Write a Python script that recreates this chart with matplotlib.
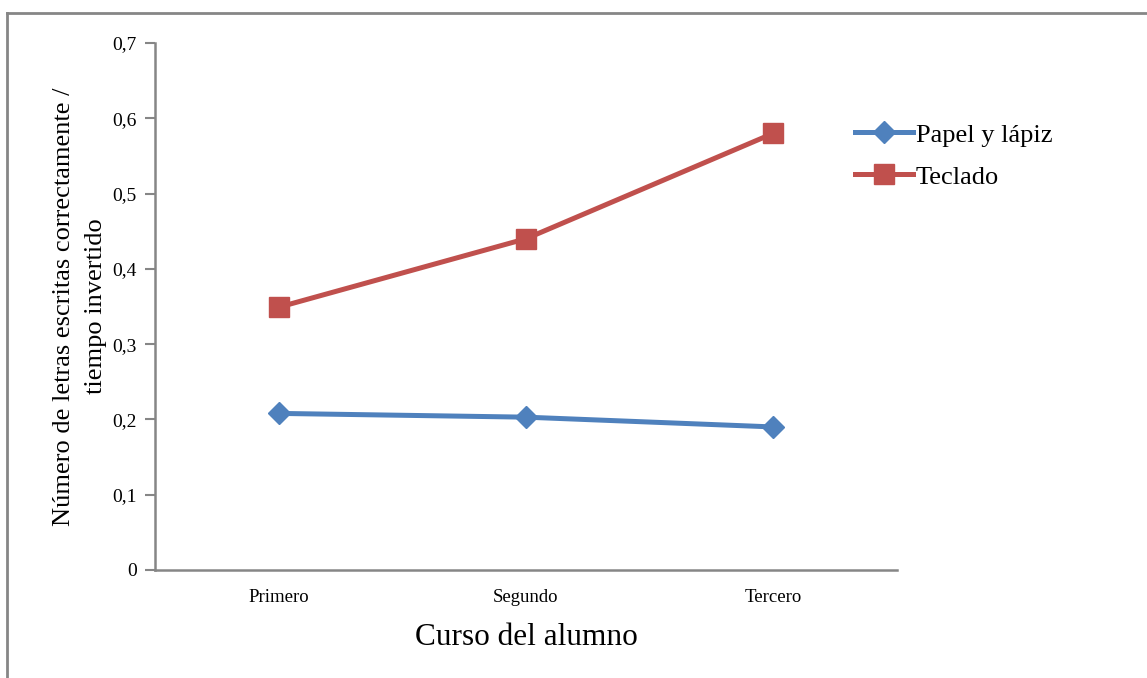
import matplotlib
matplotlib.use("Agg")
import matplotlib.pyplot as plt
from matplotlib.lines import Line2D
import numpy as np

plt.rcParams["font.family"] = ["Liberation Serif", "DejaVu Serif"]

# Datos
cursos = ["Primero", "Segundo", "Tercero"]
papel_lapiz = [0.208, 0.203, 0.190]
teclado = [0.349, 0.440, 0.580]
y_ticks = [0, 0.1, 0.2, 0.3, 0.4, 0.5, 0.6, 0.7]
y_tick_labels = ["0", "0,1", "0,2", "0,3", "0,4", "0,5", "0,6", "0,7"]

AZUL = "#4F81BD"
ROJO = "#C0504D"
GRIS = "#868686"

fig = plt.figure(figsize=(11.47, 6.78), dpi=100)
ax = fig.add_axes([0.1351, 0.1593, 0.6469, 0.7773])

x = np.arange(len(cursos))
ax.plot(x, papel_lapiz, color=AZUL, linewidth=3.6, marker="D", markersize=11,
        label="Papel y lápiz")
ax.plot(x, teclado, color=ROJO, linewidth=3.6, marker="s", markersize=14,
        label="Teclado")

ax.set_xlim(-0.5, 2.5)
ax.set_ylim(0, 0.7)
ax.set_xticks(x)
ax.set_xticklabels(cursos, fontsize=13.5)
ax.set_yticks(y_ticks)
ax.set_yticklabels(y_tick_labels, fontsize=14)
ax.tick_params(axis="x", length=0, pad=14)
ax.tick_params(axis="y", length=7, width=1.5, color=GRIS, pad=6)

for s in ["top", "right"]:
    ax.spines[s].set_visible(False)
for s in ["left", "bottom"]:
    ax.spines[s].set_color(GRIS)
    ax.spines[s].set_linewidth(1.8)

ax.set_xlabel("Curso del alumno", fontsize=22.5, labelpad=12)
ax.set_ylabel("Número de letras escritas correctamente /\ntiempo invertido",
              fontsize=19, labelpad=4, linespacing=1.55)

ax.legend(loc="upper left", bbox_to_anchor=(0.929, 0.868), frameon=False,
          fontsize=19, handlelength=2.2, handletextpad=0.1, labelspacing=0.7,
          borderaxespad=0)

# Marco del gráfico
fig.add_artist(Line2D([7 / 1147, 1.02], [1 - 13 / 678, 1 - 13 / 678],
                      color=GRIS, linewidth=2, transform=fig.transFigure))
fig.add_artist(Line2D([7 / 1147, 7 / 1147], [1 - 13 / 678, -0.02],
                      color=GRIS, linewidth=2, transform=fig.transFigure))

fig.savefig("out.png", dpi=100)
plt.close()
